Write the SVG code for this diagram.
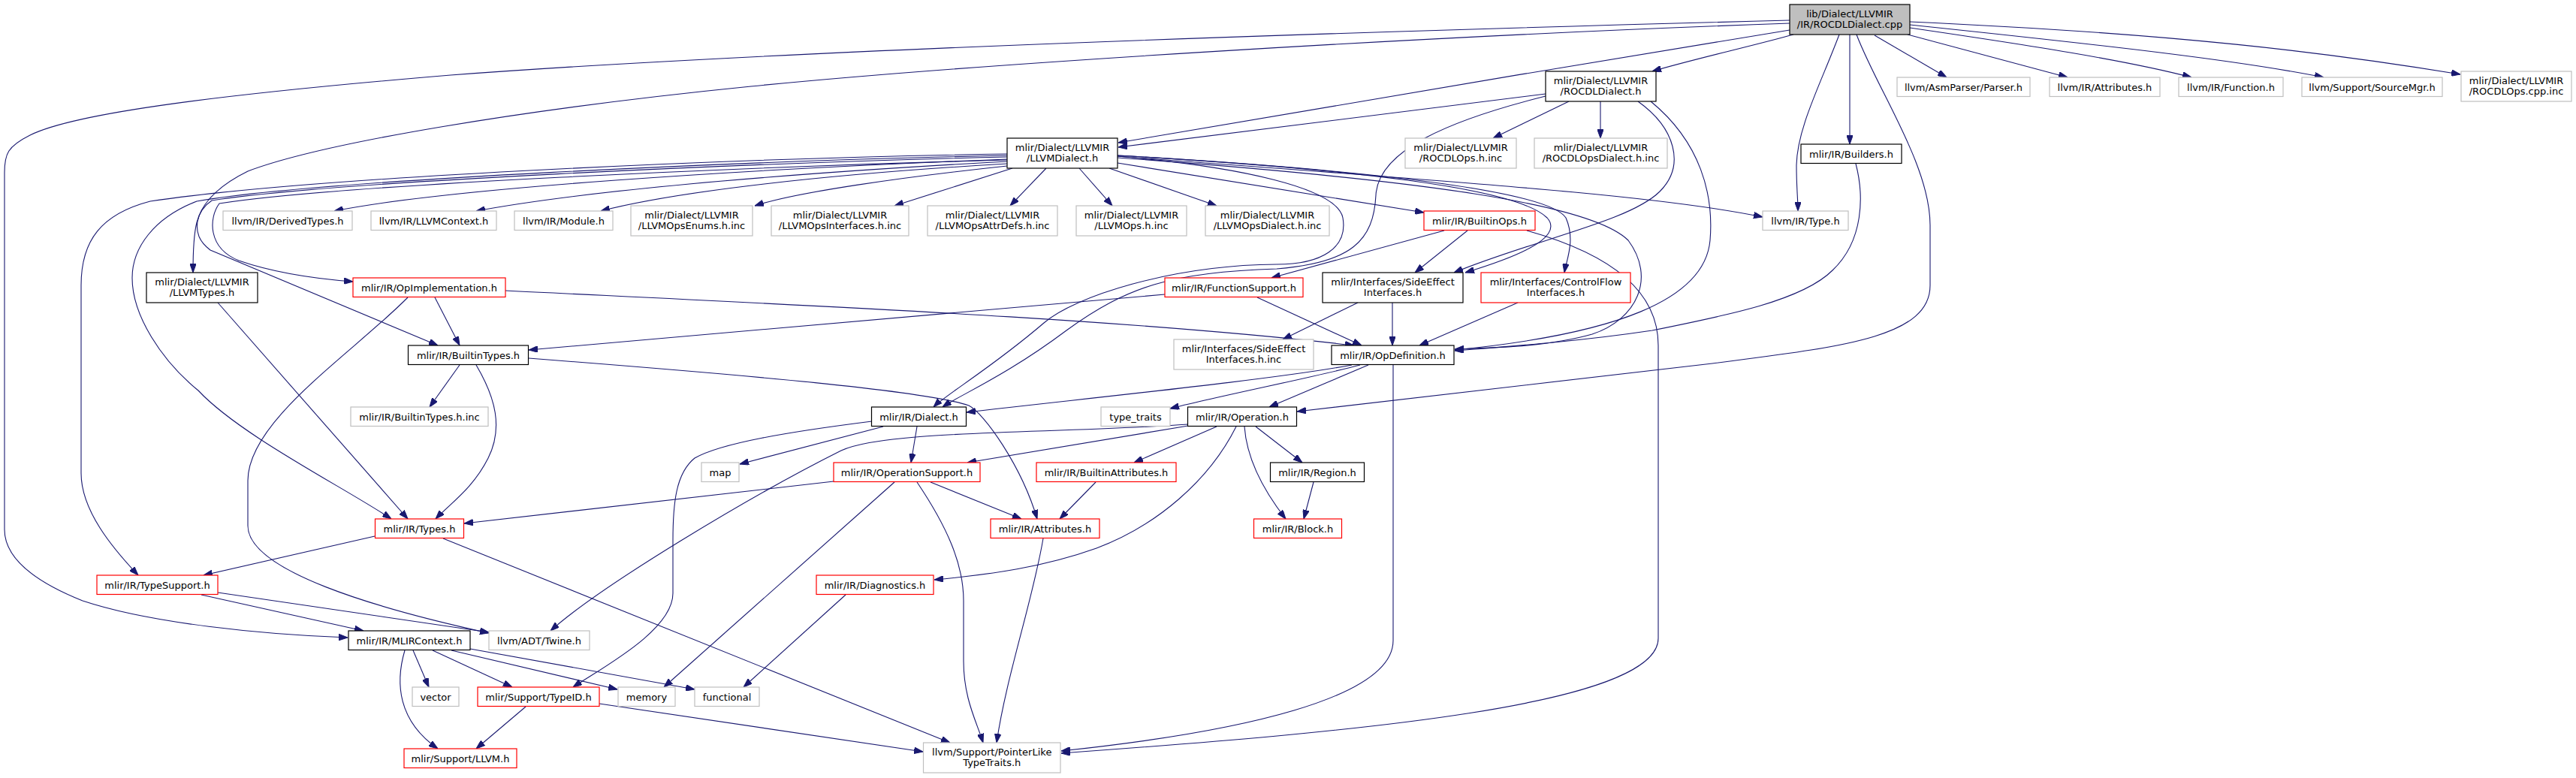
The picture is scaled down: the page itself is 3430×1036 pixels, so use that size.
<svg xmlns="http://www.w3.org/2000/svg" width="3430" height="1036" viewBox="0 0 3430 1036">
<style>
rect{fill:#ffffff;stroke-width:1.2}
.k rect{stroke:#000000}
.r rect{stroke:#ff0000}
.g rect{stroke:#bfbfbf}
.root rect{fill:#bfbfbf;stroke:#000000}
text{font-family:"DejaVu Sans","Liberation Sans",sans-serif;font-size:13px;text-anchor:middle;fill:#000000}
#edges path{fill:none;stroke:#191970;stroke-width:1.1;marker-end:url(#a)}
</style>
<defs>
<marker id="a" markerUnits="userSpaceOnUse" viewBox="0 0 12 8.6" refX="12" refY="4.3" markerWidth="12" markerHeight="8.6" orient="auto">
<path d="M0,0 L12,4.3 L0,8.6 z" fill="#191970" stroke="#191970" stroke-width="1"/>
</marker>
</defs>
<rect x="0" y="0" width="3430" height="1036" style="fill:#ffffff;stroke:none"/>
<g id="edges">
<path d="M2388,46 C2330,62 2250,80 2200,95"/>
<path d="M2383,40 C2100,85 1700,155 1489,190"/>
<path d="M2383,27 C1700,45 1000,70 600,100 C300,125 100,150 40,180 C10,195 6,205 6,230 L6,705 C6,750 60,780 110,800 C200,830 350,845 463,849"/>
<path d="M2383,31 C1900,48 1300,85 1000,115 C700,145 430,190 330,228 C275,255 255,290 265,315 C268,322 272,327 280,333 L583,460"/>
<path d="M2496,47 L2592,103"/>
<path d="M2540,46 L2753,103"/>
<path d="M2543,37 C2700,60 2830,80 2918,103"/>
<path d="M2543,33 C2800,60 2980,80 3094,103"/>
<path d="M2543,29 C2900,45 3100,70 3276,99"/>
<path d="M2463,46 L2463,192"/>
<path d="M2449,46 C2425,110 2393,170 2392,220 C2392,250 2394,265 2394,281"/>
<path d="M2472,46 C2500,120 2570,220 2570,300 L2570,380 C2570,450 2450,462 2280,484 L1727,548"/>
<path d="M2058,125 L1489,196"/>
<path d="M2089,135 L1988,184"/>
<path d="M2131,135 L2131,184"/>
<path d="M2058,128 C1930,160 1835,200 1832,260 C1829,320 1800,350 1700,358 C1560,362 1500,382 1420,440 C1340,500 1280,525 1255,542"/>
<path d="M2181,135 C2230,170 2245,220 2210,255 C2170,295 2040,320 1936,363"/>
<path d="M2198,135 C2265,190 2282,260 2277,320 C2270,400 2150,445 1937,466"/>
<path d="M1341,212 C1000,225 600,250 445,281"/>
<path d="M1341,215 C1100,228 800,250 634,281"/>
<path d="M1341,218 C1100,232 900,255 800,281"/>
<path d="M1341,221 C1200,236 1060,256 1005,274"/>
<path d="M1348,224 L1191,274"/>
<path d="M1393,224 L1345,274"/>
<path d="M1437,224 L1481,274"/>
<path d="M1477,224 L1620,274"/>
<path d="M1488,217 L1896,283"/>
<path d="M1488,208 C1900,240 2200,258 2347,289"/>
<path d="M1488,207 C1800,225 2020,250 2060,290 C2085,318 2010,345 1951,363"/>
<path d="M1488,207 C1800,225 2060,252 2085,290 C2098,320 2086,345 2083,363"/>
<path d="M1488,210 C1900,240 2120,272 2168,320 C2205,370 2180,425 2120,445 C2060,462 1990,463 1937,465"/>
<path d="M1488,208 C1650,222 1780,250 1788,290 C1795,330 1760,352 1700,352 C1560,353 1430,395 1390,430 C1320,490 1260,525 1243,542"/>
<path d="M1341,205 C1000,210 420,235 200,268 C135,285 108,320 108,380 L108,630 C108,680 150,730 184,766"/>
<path d="M1341,207 C1000,214 420,240 262,268 C205,290 176,330 176,370 C176,420 215,480 264,520 C320,580 460,650 521,691"/>
<path d="M1341,209 C1000,217 440,242 282,267 C262,280 257,300 257,363"/>
<path d="M1341,213 C1000,222 450,246 292,271 C278,290 276,330 318,347 C370,365 430,372 470,375"/>
<path d="M2471,218 C2482,260 2482,320 2440,360 C2400,400 2300,420 2200,440 C2100,455 2000,462 1937,467"/>
<path d="M1923,307 L1693,370"/>
<path d="M1954,307 L1884,363"/>
<path d="M2033,307 C2150,340 2208,390 2208,460 L2208,850 C2208,940 1800,975 1413,1003"/>
<path d="M1551,392 L704,466"/>
<path d="M1674,396 L1813,460"/>
<path d="M579,396 L612,460"/>
<path d="M543,396 C470,470 330,560 330,640 L330,700 C330,760 500,810 651,843"/>
<path d="M673,387 C1100,408 1500,425 1803,460"/>
<path d="M290,403 L543,691"/>
<path d="M612,486 L572,542"/>
<path d="M634,486 C660,530 670,570 650,610 C630,650 600,670 580,691"/>
<path d="M704,477 C1000,500 1230,520 1290,540 C1310,550 1360,620 1381,691"/>
<path d="M1808,403 L1708,452"/>
<path d="M1854,403 L1854,460"/>
<path d="M2021,403 L1890,460"/>
<path d="M1800,486 C1700,505 1450,530 1287,549"/>
<path d="M1811,486 C1760,500 1620,528 1558,544"/>
<path d="M1822,486 L1690,542"/>
<path d="M1855,486 L1855,853 C1855,930 1650,975 1413,1000"/>
<path d="M1176,568 L985,618"/>
<path d="M1161,561 C1050,575 960,590 925,610 C900,630 896,670 896,720 L896,790 C896,840 800,890 763,915"/>
<path d="M1221,568 L1213,616"/>
<path d="M1582,567 L1288,616"/>
<path d="M1620,568 L1510,616"/>
<path d="M1672,568 L1734,616"/>
<path d="M1657,568 C1660,610 1680,650 1712,691"/>
<path d="M1646,568 C1610,640 1540,700 1460,730 C1390,755 1320,765 1244,772"/>
<path d="M1582,565 C1400,578 1180,572 1120,600 C1000,660 800,780 733,840"/>
<path d="M1110,641 L618,697"/>
<path d="M1191,642 L884,915"/>
<path d="M1239,642 L1360,691"/>
<path d="M1221,642 C1260,700 1283,750 1283,800 L1283,880 C1283,930 1300,960 1309,989"/>
<path d="M1749,642 L1736,691"/>
<path d="M1459,642 L1411,691"/>
<path d="M1389,717 C1375,800 1340,900 1327,989"/>
<path d="M1126,792 L990,915"/>
<path d="M499,714 L271,766"/>
<path d="M590,717 L1265,989"/>
<path d="M268,792 L484,840"/>
<path d="M290,789 L651,842"/>
<path d="M550,866 L571,915"/>
<path d="M576,866 L682,915"/>
<path d="M601,866 L822,918"/>
<path d="M626,864 L925,918"/>
<path d="M539,866 C526,910 530,960 583,997"/>
<path d="M700,941 L634,997"/>
<path d="M798,937 L1229,1001"/>
</g>
<g id="n_root" class="root"><rect x="2383" y="6" width="160" height="40"/><text x="2463" y="23.3">lib/Dialect/LLVMIR</text><text x="2463" y="36.6">/IR/ROCDLDialect.cpp</text></g>
<g id="n_rocdl_h" class="k"><rect x="2058" y="95" width="147" height="40"/><text x="2131.5" y="112.3">mlir/Dialect/LLVMIR</text><text x="2131.5" y="125.6">/ROCDLDialect.h</text></g>
<g id="n_rocdlops_cppinc" class="g"><rect x="3277" y="95" width="147" height="40"/><text x="3350.5" y="112.3">mlir/Dialect/LLVMIR</text><text x="3350.5" y="125.6">/ROCDLOps.cpp.inc</text></g>
<g id="n_parser" class="g"><rect x="2526" y="103" width="177" height="25.5"/><text x="2614.5" y="120.5">llvm/AsmParser/Parser.h</text></g>
<g id="n_llvm_attributes" class="g"><rect x="2729" y="103" width="147" height="25.5"/><text x="2802.5" y="120.5">llvm/IR/Attributes.h</text></g>
<g id="n_function" class="g"><rect x="2901" y="103" width="139" height="25.5"/><text x="2970.5" y="120.5">llvm/IR/Function.h</text></g>
<g id="n_sourcemgr" class="g"><rect x="3065" y="103" width="187" height="25.5"/><text x="3158.5" y="120.5">llvm/Support/SourceMgr.h</text></g>
<g id="n_llvmdialect" class="k"><rect x="1341" y="184" width="147" height="40"/><text x="1414.5" y="201.3">mlir/Dialect/LLVMIR</text><text x="1414.5" y="214.6">/LLVMDialect.h</text></g>
<g id="n_rocdlops_inc" class="g"><rect x="1871" y="184" width="148" height="40"/><text x="1945" y="201.3">mlir/Dialect/LLVMIR</text><text x="1945" y="214.6">/ROCDLOps.h.inc</text></g>
<g id="n_rocdlopsdialect_inc" class="g"><rect x="2043" y="184" width="177" height="40"/><text x="2131.5" y="201.3">mlir/Dialect/LLVMIR</text><text x="2131.5" y="214.6">/ROCDLOpsDialect.h.inc</text></g>
<g id="n_builders" class="k"><rect x="2398" y="192" width="134" height="25.5"/><text x="2465" y="209.5">mlir/IR/Builders.h</text></g>
<g id="n_derivedtypes" class="g"><rect x="297" y="281" width="172" height="25.5"/><text x="383" y="298.5">llvm/IR/DerivedTypes.h</text></g>
<g id="n_llvmcontext" class="g"><rect x="494" y="281" width="167" height="25.5"/><text x="577.5" y="298.5">llvm/IR/LLVMContext.h</text></g>
<g id="n_module" class="g"><rect x="685" y="281" width="131" height="25.5"/><text x="750.5" y="298.5">llvm/IR/Module.h</text></g>
<g id="n_opsenums" class="g"><rect x="840" y="274" width="162" height="40"/><text x="921" y="291.3">mlir/Dialect/LLVMIR</text><text x="921" y="304.6">/LLVMOpsEnums.h.inc</text></g>
<g id="n_opsinterfaces" class="g"><rect x="1027" y="274" width="183" height="40"/><text x="1118.5" y="291.3">mlir/Dialect/LLVMIR</text><text x="1118.5" y="304.6">/LLVMOpsInterfaces.h.inc</text></g>
<g id="n_opsattrdefs" class="g"><rect x="1235" y="274" width="173" height="40"/><text x="1321.5" y="291.3">mlir/Dialect/LLVMIR</text><text x="1321.5" y="304.6">/LLVMOpsAttrDefs.h.inc</text></g>
<g id="n_llvmops_inc" class="g"><rect x="1433" y="274" width="147" height="40"/><text x="1506.5" y="291.3">mlir/Dialect/LLVMIR</text><text x="1506.5" y="304.6">/LLVMOps.h.inc</text></g>
<g id="n_opsdialect_inc" class="g"><rect x="1605" y="274" width="165" height="40"/><text x="1687.5" y="291.3">mlir/Dialect/LLVMIR</text><text x="1687.5" y="304.6">/LLVMOpsDialect.h.inc</text></g>
<g id="n_builtinops" class="r"><rect x="1896" y="281" width="148" height="25.5"/><text x="1970" y="298.5">mlir/IR/BuiltinOps.h</text></g>
<g id="n_type" class="g"><rect x="2347" y="281" width="114" height="25.5"/><text x="2404" y="298.5">llvm/IR/Type.h</text></g>
<g id="n_llvmtypes" class="k"><rect x="195" y="363" width="148" height="40"/><text x="269" y="380.3">mlir/Dialect/LLVMIR</text><text x="269" y="393.6">/LLVMTypes.h</text></g>
<g id="n_opimplementation" class="r"><rect x="470" y="370" width="203" height="25.5"/><text x="571.5" y="387.5">mlir/IR/OpImplementation.h</text></g>
<g id="n_functionsupport" class="r"><rect x="1551" y="370" width="184" height="25.5"/><text x="1643" y="387.5">mlir/IR/FunctionSupport.h</text></g>
<g id="n_sideeffect" class="k"><rect x="1761" y="363" width="187" height="40"/><text x="1854.5" y="380.3">mlir/Interfaces/SideEffect</text><text x="1854.5" y="393.6">Interfaces.h</text></g>
<g id="n_controlflow" class="r"><rect x="1972" y="363" width="199" height="40"/><text x="2071.5" y="380.3">mlir/Interfaces/ControlFlow</text><text x="2071.5" y="393.6">Interfaces.h</text></g>
<g id="n_builtintypes" class="k"><rect x="543.5" y="460" width="160" height="25.5"/><text x="623.5" y="477.5">mlir/IR/BuiltinTypes.h</text></g>
<g id="n_sideeffect_inc" class="g"><rect x="1563" y="452" width="186" height="40"/><text x="1656" y="469.3">mlir/Interfaces/SideEffect</text><text x="1656" y="482.6">Interfaces.h.inc</text></g>
<g id="n_opdefinition" class="k"><rect x="1773" y="460" width="163" height="25.5"/><text x="1854.5" y="477.5">mlir/IR/OpDefinition.h</text></g>
<g id="n_builtintypes_inc" class="g"><rect x="467" y="542" width="183" height="25.5"/><text x="558.5" y="559.5">mlir/IR/BuiltinTypes.h.inc</text></g>
<g id="n_dialect" class="k"><rect x="1160.5" y="542" width="126" height="25.5"/><text x="1223.5" y="559.5">mlir/IR/Dialect.h</text></g>
<g id="n_type_traits" class="g"><rect x="1466" y="542" width="92" height="25.5"/><text x="1512" y="559.5">type_traits</text></g>
<g id="n_operation" class="k"><rect x="1581.5" y="542" width="145" height="25.5"/><text x="1654" y="559.5">mlir/IR/Operation.h</text></g>
<g id="n_map" class="g"><rect x="934" y="616" width="50" height="25.5"/><text x="959" y="633.5">map</text></g>
<g id="n_operationsupport" class="r"><rect x="1110" y="616" width="195" height="25.5"/><text x="1207.5" y="633.5">mlir/IR/OperationSupport.h</text></g>
<g id="n_builtinattributes" class="r"><rect x="1380" y="616" width="186" height="25.5"/><text x="1473" y="633.5">mlir/IR/BuiltinAttributes.h</text></g>
<g id="n_region" class="k"><rect x="1691.5" y="616" width="125" height="25.5"/><text x="1754" y="633.5">mlir/IR/Region.h</text></g>
<g id="n_types" class="r"><rect x="499.5" y="691" width="118" height="25.5"/><text x="558.5" y="708.5">mlir/IR/Types.h</text></g>
<g id="n_attributes" class="r"><rect x="1319" y="691" width="145" height="25.5"/><text x="1391.5" y="708.5">mlir/IR/Attributes.h</text></g>
<g id="n_block" class="r"><rect x="1669.5" y="691" width="117" height="25.5"/><text x="1728" y="708.5">mlir/IR/Block.h</text></g>
<g id="n_typesupport" class="r"><rect x="129" y="766" width="161" height="25.5"/><text x="209.5" y="783.5">mlir/IR/TypeSupport.h</text></g>
<g id="n_diagnostics" class="r"><rect x="1087" y="766" width="156" height="25.5"/><text x="1165" y="783.5">mlir/IR/Diagnostics.h</text></g>
<g id="n_mlircontext" class="k"><rect x="464" y="840" width="162" height="25.5"/><text x="545" y="857.5">mlir/IR/MLIRContext.h</text></g>
<g id="n_twine" class="g"><rect x="651" y="840" width="134" height="25.5"/><text x="718" y="857.5">llvm/ADT/Twine.h</text></g>
<g id="n_vector" class="g"><rect x="549" y="915" width="62" height="25.5"/><text x="580" y="932.5">vector</text></g>
<g id="n_typeid" class="r"><rect x="636" y="915" width="162" height="25.5"/><text x="717" y="932.5">mlir/Support/TypeID.h</text></g>
<g id="n_memory" class="g"><rect x="823" y="915" width="76" height="25.5"/><text x="861" y="932.5">memory</text></g>
<g id="n_functional" class="g"><rect x="925" y="915" width="86" height="25.5"/><text x="968" y="932.5">functional</text></g>
<g id="n_llvm" class="r"><rect x="538" y="997" width="150" height="25.5"/><text x="613" y="1014.5">mlir/Support/LLVM.h</text></g>
<g id="n_pointerlike" class="g"><rect x="1229.5" y="989" width="182.5" height="40"/><text x="1320.75" y="1006.3">llvm/Support/PointerLike</text><text x="1320.75" y="1019.6">TypeTraits.h</text></g>
</svg>
